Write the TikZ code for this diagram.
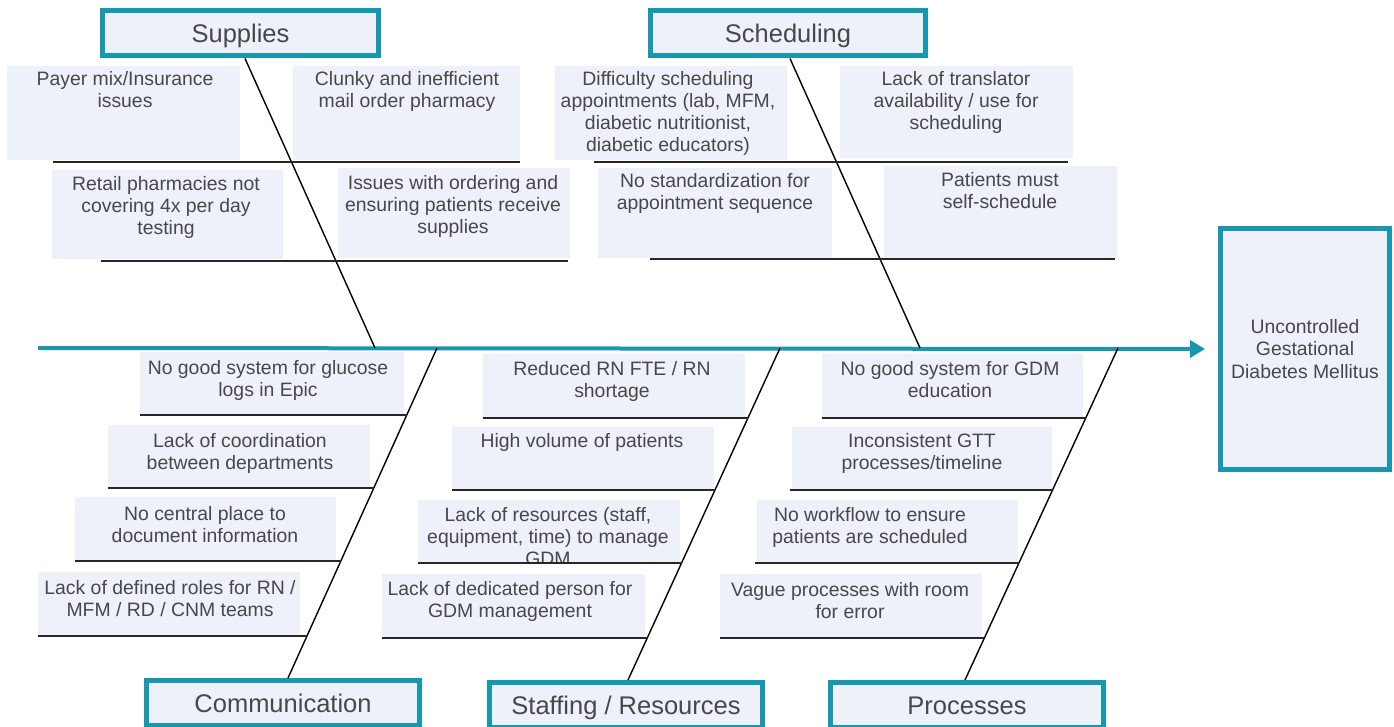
\documentclass[tikz,border=0pt]{standalone}
\usepackage{fontspec}
\setmainfont{Liberation Sans}
\usetikzlibrary{arrows.meta}
\definecolor{teal1}{RGB}{24,152,176}
\definecolor{boxfill}{RGB}{238,240,250}
\definecolor{txtgray}{RGB}{72,72,72}
\definecolor{linedark}{RGB}{40,40,40}
\newcommand{\causebox}[8]{%
  \fill[boxfill] (#2,#3) rectangle (#4,#5);
  \begin{scope}
    \clip (#2,#3) rectangle (#4,#5);
    \node[txt, anchor=north] (#1) at (#6,#7) {#8};
  \end{scope}}
\begin{document}
\begin{tikzpicture}[x=1pt,y=-1pt,
  txt/.style={font=\fontsize{19.4}{22}\selectfont, text=txtgray, align=center, inner sep=0pt},
  cat/.style={draw=teal1, line width=5pt, fill=boxfill, font=\fontsize{25.5}{28}\selectfont, text=txtgray, inner sep=0pt, minimum height=45pt, text height=18.3pt, text depth=0pt},
  effect/.style={draw=teal1, line width=4.5pt, fill=boxfill, font=\fontsize{19.4}{22.5}\selectfont, text=txtgray, align=center, inner sep=0pt, minimum width=169pt, minimum height=241pt},
  bone/.style={draw=black, line width=1.4pt},
  rib/.style={draw=linedark, line width=2.4pt},
  spine/.style={draw=teal1, line width=4pt, -{Triangle[length=15pt,width=17pt]}}]
\useasboundingbox (0,0) rectangle (1394,727);
\fill[white] (0,0) rectangle (1394,727);
\clip (0,0) rectangle (1394,727);

% ---------- top cause boxes ----------
\causebox{payer}{7}{66}{240}{160}{125}{71}{Payer mix/Insurance\\issues}
\causebox{clunky}{293}{66}{520}{160}{407}{71}{Clunky and inefficient\\mail order pharmacy}
\causebox{retail}{52}{170}{283}{259}{166}{176}{Retail pharmacies not\\covering 4x per day\\testing}
\causebox{ordering}{338}{168}{570}{258}{453}{175}{Issues with ordering and\\ensuring patients receive\\supplies}
\causebox{difficulty}{555}{66}{787}{160}{668}{71}{Difficulty scheduling\\appointments (lab, MFM,\\diabetic nutritionist,\\diabetic educators)}
\causebox{translator}{840}{66}{1073}{158}{956}{71}{Lack of translator\\availability / use for\\scheduling}
\causebox{nostd}{598}{168}{832}{258}{715}{173}{No standardization for\\appointment sequence}
\causebox{selfsched}{884}{166}{1117}{258}{1000}{172}{Patients must\\self-schedule}

% ---------- bottom cause boxes ----------
\causebox{glucose}{140}{352}{404}{414}{268}{360}{No good system for glucose\\logs in Epic}
\causebox{coord}{108}{425}{370}{487}{240}{433}{Lack of coordination\\between departments}
\causebox{central}{75}{497}{336}{560}{205}{506}{No central place to\\document information}
\causebox{roles}{38}{572}{300}{635}{170}{580}{Lack of defined roles for RN /\\MFM / RD / CNM teams}

\causebox{reduced}{483}{354}{745}{417}{612}{361}{Reduced RN FTE / RN\\shortage}
\causebox{volume}{452}{427}{714}{489}{582}{433}{High volume of patients}
\causebox{resources}{418}{500}{680}{562}{548}{507}{Lack of resources (staff,\\equipment, time) to manage\\GDM}
\causebox{dedicated}{382}{574}{645}{637}{510}{581}{Lack of dedicated person for\\GDM management}

\causebox{gdmedu}{822}{354}{1083}{417}{950}{361}{No good system for GDM\\education}
\causebox{gtt}{792}{427}{1052}{489}{922}{433}{Inconsistent GTT\\processes/timeline}
\causebox{workflow}{757}{500}{1018}{562}{870}{507}{No workflow to ensure\\patients are scheduled}
\causebox{vague}{720}{574}{982}{637}{850}{582}{Vague processes with room\\for error}

% ---------- category boxes ----------
\node[cat, minimum width=276pt] (supplies) at (240.5,33) {Supplies};
\node[cat, minimum width=275pt] (scheduling) at (788,33) {Scheduling};
\node[cat, minimum width=273pt] (communication) at (283,703) {Communication};
\node[cat, minimum width=273pt] (staffing) at (626,705) {Staffing / Resources};
\node[cat, minimum width=273pt] (processes) at (967,705) {Processes};
\node[effect] (effect) at (1305,349) {Uncontrolled\\Gestational\\Diabetes Mellitus};

% ---------- spine ----------
\coordinate (tail) at (38,348);
\draw[spine] (tail) -- (effect.west -| 1205,0);

% ---------- bone coordinates ----------
\coordinate (supA) at (245,58.5);   \coordinate (supB) at (375,348);
\coordinate (schA) at (790,58.5);   \coordinate (schB) at (920,348);
\coordinate (comA) at (437,348);    \coordinate (comB) at (288,678);
\coordinate (staA) at (780,348);    \coordinate (staB) at (628,680);
\coordinate (proA) at (1118,348);   \coordinate (proB) at (965,680);

\draw[bone] (supA) -- (supB);
\draw[bone] (schA) -- (schB);
\draw[bone] (comA) -- (comB);
\draw[bone] (staA) -- (staB);
\draw[bone] (proA) -- (proB);

% ---------- ribs ----------
\coordinate (r1a) at (53,162);  \coordinate (r1b) at (520,162);
\coordinate (r2a) at (101,261); \coordinate (r2b) at (568,261);
\coordinate (r3a) at (594,162); \coordinate (r3b) at (1068,162);
\coordinate (r4a) at (650,259); \coordinate (r4b) at (1115,259);
\draw[rib] (r1a) -- (r1b);
\draw[rib] (r2a) -- (r2b);
\draw[rib] (r3a) -- (r3b);
\draw[rib] (r4a) -- (r4b);

\coordinate (c1a) at (140,415); \coordinate (c1b) at (406.7,415);
\coordinate (c2a) at (108,488); \coordinate (c2b) at (373.8,488);
\coordinate (c3a) at (75,561);  \coordinate (c3b) at (340.8,561);
\coordinate (c4a) at (38,636);  \coordinate (c4b) at (307,636);
\draw[rib] (c1a) -- (c1b);
\draw[rib] (c2a) -- (c2b);
\draw[rib] (c3a) -- (c3b);
\draw[rib] (c4a) -- (c4b);

\coordinate (s1a) at (483,418); \coordinate (s1b) at (748,418);
\coordinate (s2a) at (452,490); \coordinate (s2b) at (715,490);
\coordinate (s3a) at (418,563); \coordinate (s3b) at (681.6,563);
\coordinate (s4a) at (382,638); \coordinate (s4b) at (647.2,638);
\draw[rib] (s1a) -- (s1b);
\draw[rib] (s2a) -- (s2b);
\draw[rib] (s3a) -- (s3b);
\draw[rib] (s4a) -- (s4b);

\coordinate (p1a) at (822,418); \coordinate (p1b) at (1085.7,418);
\coordinate (p2a) at (790,490); \coordinate (p2b) at (1052.6,490);
\coordinate (p3a) at (755,563); \coordinate (p3b) at (1019,563);
\coordinate (p4a) at (720,638); \coordinate (p4b) at (984.4,638);
\draw[rib] (p1a) -- (p1b);
\draw[rib] (p2a) -- (p2b);
\draw[rib] (p3a) -- (p3b);
\draw[rib] (p4a) -- (p4b);
\end{tikzpicture}
\end{document}
